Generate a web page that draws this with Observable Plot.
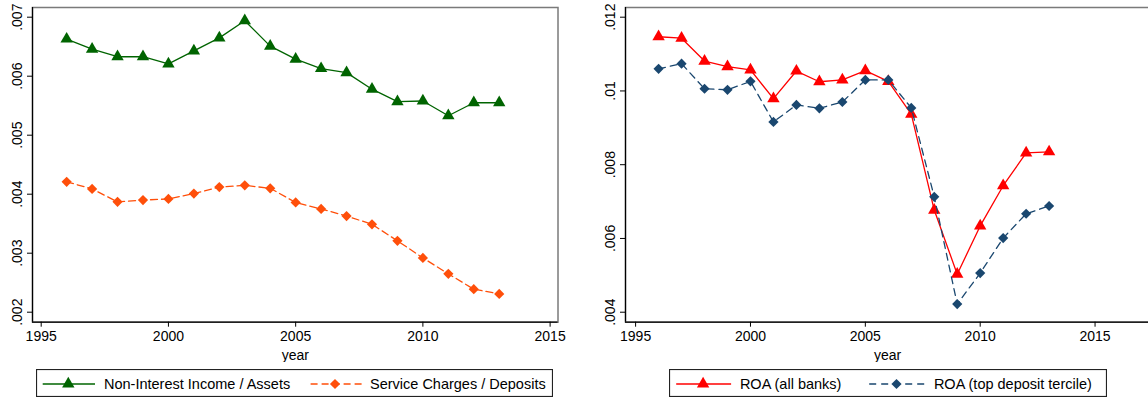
<!DOCTYPE html>
<html>
<head>
<meta charset="utf-8">
<script src="https://cdn.jsdelivr.net/npm/d3@7"></script>
<script src="https://cdn.jsdelivr.net/npm/@observablehq/plot@0.6"></script>
<style>
  body { margin: 0; width: 1148px; height: 401px; overflow: hidden; background: #fff; position: relative;
         font-family: "Liberation Sans", Arial, Helvetica, sans-serif; }
  .panel { position: absolute; top: 0; }
  .panel svg { max-width: none !important; }
  .legend { position: absolute; top: 369px; }
</style>
</head>
<body>
<div id="left" class="panel" style="left:0;width:574px"></div>
<div id="right" class="panel" style="left:574px;width:600px"></div>
<div id="legLeft" class="legend" style="left:36px"></div>
<div id="legRight" class="legend" style="left:669px"></div>
<script>
// values
const years = [1996, 1997, 1998, 1999, 2000, 2001, 2002, 2003, 2004, 2005, 2006, 2007, 2008, 2009, 2010, 2011, 2012, 2013]
const nonInterest = [.00663, .00646, .00633, .00633, .00621, .00643, .00665, .00694, .00651, .00629, .00613, .00606, .00578, .00557, .00558, .00533, .00555, .00555]
const serviceCharges = [.00421, .00409, .00387, .00390, .00392, .00401, .00412, .00415, .00410, .00386, .00375, .00363, .00349, .00321, .00292, .00265, .00239, .00231]
const roaAll = [.01147, .01143, .01081, .01066, .01057, .00979, .01054, .01025, .01030, .01055, .01026, .00937, .00677, .00503, .00634, .00743, .00832, .00835]
const roaTop = [.01060, .01074, .01006, .01003, .01026, .00916, .00962, .00953, .00970, .01030, .01030, .00954, .00713, .00422, .00506, .00601, .00667, .00688]

const xTicks = [1995, 2000, 2005, 2010, 2015]
const yTicksLeft = [.002, .003, .004, .005, .006, .007]
const yTicksRight = [.004, .006, .008, .010, .012]

const green = "#006400", orange = "#ff4f0a", red = "#ff0000", navy = "#1a476f"
const fmt = d => d3.format(".3~f")(d).replace(/^0/, "")

function panel({width, marginLeft, marginRight, xDomain, yDomain, yTicks, series}) {
  const marks = [
    Plot.frame({stroke: "#7a7a7a", strokeWidth: 1.5}),
    Plot.ruleX([xDomain[0]], {stroke: "#000", strokeWidth: 1.2}),
    Plot.ruleY([yDomain[0]], {stroke: "#000", strokeWidth: 1.2}),
    Plot.axisX({ticks: xTicks, tickSize: 5, tickPadding: 4, fontSize: 14, tickFormat: d => String(d), label: null}),
    Plot.axisY({ticks: yTicks, tickSize: 5, tickRotate: -90, tickPadding: 6, fontSize: 14, tickFormat: fmt, label: null}),
    Plot.text(["year"], {text: d => d, frameAnchor: "bottom", dy: 33.5, lineAnchor: "middle", fontSize: 14})
  ]
  series.forEach(s => {
    const data = years.map((year, i) => ({year, v: s.values[i]}))
    marks.push(Plot.line(data, {x: "year", y: "v", stroke: s.color, strokeWidth: 1.3, strokeDasharray: s.dash}))
    marks.push(Plot.dot(data, {x: "year", y: "v", symbol: s.symbol, fill: s.color, stroke: "none", r: s.r}))
  })
  return Plot.plot({
    width, height: 362,
    marginLeft, marginRight, marginTop: 7, marginBottom: 40.3,
    style: {fontFamily: '"Liberation Sans", Arial, Helvetica, sans-serif', fontSize: "14px", color: "#000", background: "#fff", maxWidth: "none"},
    x: {domain: xDomain},
    y: {domain: yDomain},
    marks
  })
}

const leftSeries = [
  {label: "Non-Interest Income / Assets", values: nonInterest, color: green, symbol: "triangle", r: 4.6, dash: null},
  {label: "Service Charges / Deposits", values: serviceCharges, color: orange, symbol: "diamond2", r: 4.6, dash: "7,4"}
]
const rightSeries = [
  {label: "ROA (all banks)", values: roaAll, color: red, symbol: "triangle", r: 4.6, dash: null},
  {label: "ROA (top deposit tercile)", values: roaTop, color: navy, symbol: "diamond2", r: 4.6, dash: "7,5"}
]

d3.select("#left").append(() => panel({
  width: 574, marginLeft: 32, marginRight: 16.5,
  xDomain: [1994.658, 2015.31], yDomain: [.0018305, .0071644],
  yTicks: yTicksLeft, series: leftSeries
}))
d3.select("#right").append(() => panel({
  width: 600, marginLeft: 51, marginRight: 25,
  xDomain: [1994.56, 2017.37], yDomain: [.003729, .012263],
  yTicks: yTicksRight, series: rightSeries
}))

// Stata-style legend boxes below each panel
function legend(el, width, series, layout) {
  const h = 28
  const svg = d3.select(el).append("svg").attr("width", width).attr("height", h)
    .style("font-family", '"Liberation Sans", Arial, Helvetica, sans-serif').style("font-size", "14.5px")
  svg.append("rect").attr("x", 0.5).attr("y", 0.5).attr("width", width - 1).attr("height", h - 1)
    .attr("fill", "#fff").attr("stroke", "#222").attr("stroke-width", 1.2)
  series.forEach((s, i) => {
    const L = layout[i], cy = 15
    svg.append("line").attr("x1", L.x0).attr("x2", L.x1).attr("y1", cy).attr("y2", cy)
      .attr("stroke", s.color).attr("stroke-width", 1.6).attr("stroke-dasharray", s.dash)
    const sym = s.symbol === "triangle" ? d3.symbolTriangle : d3.symbolDiamond2
    svg.append("path").attr("d", d3.symbol(sym, Math.PI * s.r * s.r)())
      .attr("transform", `translate(${L.mx},${cy})`).attr("fill", s.color)
    svg.append("text").attr("x", L.tx).attr("y", cy).attr("dy", "0.35em").attr("fill", "#000").text(s.label)
  })
}
legend("#legLeft", 517, leftSeries, [{x0: 6.7, x1: 59, mx: 32.3, tx: 68}, {x0: 274.6, x1: 326.6, mx: 299, tx: 334}])
legend("#legRight", 438, rightSeries, [{x0: 7.2, x1: 62.1, mx: 34.1, tx: 70.9}, {x0: 200.2, x1: 256.2, mx: 227.5, tx: 264.9}])
</script>
</body>
</html>
